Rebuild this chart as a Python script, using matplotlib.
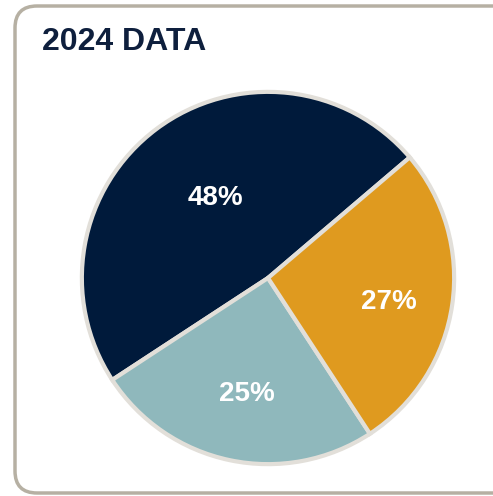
import numpy as np
import matplotlib
matplotlib.use("Agg")
import matplotlib.pyplot as plt
from matplotlib.patches import FancyBboxPatch

title = "2024 DATA"
shares = [48, 25, 27]
labels = ["48%", "25%", "27%"]
colors = ["#001a3b", "#8fb8bc", "#df9a1f"]

W, H = 493, 496
fig = plt.figure(figsize=(W / 100, H / 100), dpi=100)
fig.patch.set_facecolor("white")

# background frame in pixel coords
bg = fig.add_axes([0, 0, 1, 1])
bg.set_xlim(0, W)
bg.set_ylim(H, 0)
bg.axis("off")
frame = FancyBboxPatch((15, 6), 520, 487, boxstyle="round,pad=0,rounding_size=22",
                       facecolor="white", edgecolor="#b6b0a3", linewidth=2.5)
bg.add_patch(frame)
bg.text(42, 42, title, fontsize=23, fontweight="bold", color="#0e1f3d",
        family=["Liberation Sans", "DejaVu Sans"], va="center", ha="left")

ax = fig.add_axes([80 / W, (H - 278 - 188) / H, 376 / W, 376 / H])
wedges, _ = ax.pie(shares, colors=colors, startangle=40.4, counterclock=True,
                   wedgeprops=dict(edgecolor="#e2dfd9", linewidth=3))

# label placement tweaks: (radius fraction, angle shift in degrees)
tweaks = [(0.53, -4.3), (0.62, 1.0), (0.66, -1.7)]
for w, lab, (r, da) in zip(wedges, labels, tweaks):
    ang = np.deg2rad((w.theta1 + w.theta2) / 2 + da)
    ax.text(r * np.cos(ang), r * np.sin(ang) - 0.015, lab, ha="center", va="center",
            color="white", fontsize=20, fontweight="bold",
            family=["Liberation Sans", "DejaVu Sans"])
ax.set_xlim(-1.01, 1.01)
ax.set_ylim(-1.01, 1.01)
ax.set_aspect("equal")

fig.savefig("out.png", dpi=100, facecolor="white")
